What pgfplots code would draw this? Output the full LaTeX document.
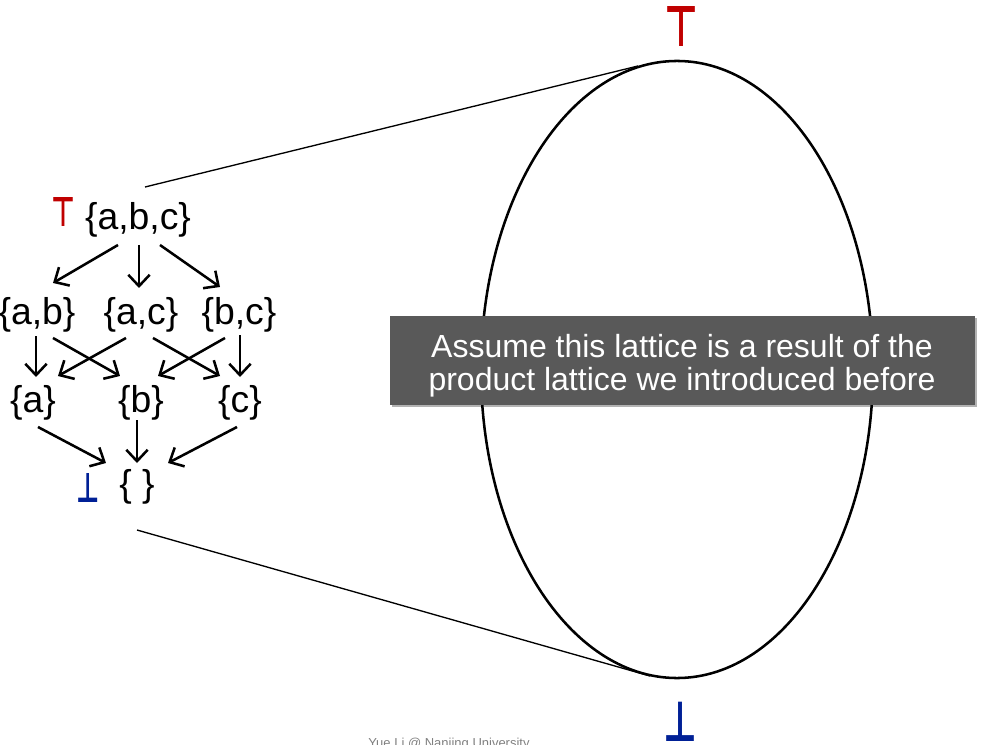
\documentclass[border=0pt]{standalone}
\usepackage{pgfplots}
\pgfplotsset{compat=1.18}
\usepackage{fontspec}
\setmainfont{Liberation Sans}
\newfontfamily\dejavu{DejaVu Sans}
\usepackage{graphicx}
\usetikzlibrary{arrows.meta,shadows}
\definecolor{topred}{RGB}{192,0,0}
\definecolor{botblue}{RGB}{0,32,150}
\definecolor{boxgray}{RGB}{89,89,89}
\definecolor{footgray}{RGB}{128,128,128}
\begin{document}
\begin{tikzpicture}
\useasboundingbox (0,0) rectangle (736.5pt,558pt);
\clip (0,0) rectangle (736.5pt,558pt);
\begin{axis}[
  at={(0,0)}, anchor=origin,
  scale only axis, width=736.5pt, height=558pt,
  xmin=0, xmax=982, ymin=0, ymax=744,
  hide axis, clip=false,
]
% tangent lines
\addplot[black, line width=1pt] coordinates {(145,557) (638,678)};
\addplot[black, line width=1pt] coordinates {(137,214) (650,68)};
% ellipse
\draw[black, line width=1.9pt] (axis cs:677,374.5) ellipse [x radius=147pt, y radius=231.4pt];
% arrows
\pgfplotsset{arr/.style={black, line width=1.9pt, -{Straight Barb[length=8.5pt,width=16pt]}}}
\addplot[arr] coordinates {(118,499) (53,461)};
\addplot[arr] coordinates {(139,499) (139,456)};
\addplot[arr] coordinates {(160,499) (220,457)};
\addplot[arr] coordinates {(36,408) (36,367)};
\addplot[arr] coordinates {(53,406) (120,368)};
\addplot[arr] coordinates {(126,406) (58,368)};
\addplot[arr] coordinates {(153,406) (220,368)};
\addplot[arr] coordinates {(225,406) (158,368)};
\addplot[arr] coordinates {(240,409) (240,367)};
\addplot[arr] coordinates {(38,317) (106,281)};
\addplot[arr] coordinates {(137,324) (137,281)};
\addplot[arr] coordinates {(237,317) (168,281)};
% lattice labels
\tikzset{lab/.style={inner sep=0pt, font=\fontsize{28}{30}\selectfont}}
\node[lab] at (axis cs:138,524.5) {\{a,b,c\}};
\node[lab] at (axis cs:37,429.5) {\{a,b\}};
\node[lab] at (axis cs:141,429.5) {\{a,c\}};
\node[lab] at (axis cs:239,429.5) {\{b,c\}};
\node[lab] at (axis cs:33,341.5) {\{a\}};
\node[lab] at (axis cs:141,341.5) {\{b\}};
\node[lab] at (axis cs:240,341.5) {\{c\}};
\node[lab] at (axis cs:137,257.5) {\{ \}};
% top / bottom symbols
\node[inner sep=0pt, text=topred] at (axis cs:64,531.5) {\resizebox{18pt}{21.75pt}{\dejavu\bfseries ⊤}};
\node[inner sep=0pt, text=botblue] at (axis cs:88,256.5) {\resizebox{17.5pt}{21.75pt}{\dejavu\bfseries ⊥}};
\node[inner sep=0pt, text=topred] at (axis cs:681,717) {\resizebox{25.5pt}{30pt}{\dejavu\bfseries ⊤}};
\node[inner sep=0pt, text=botblue] at (axis cs:680,22.5) {\resizebox{25.5pt}{29.5pt}{\dejavu\bfseries ⊥}};
% box
\fill[boxgray, drop shadow={shadow xshift=1.5pt, shadow yshift=-1.5pt, fill=black, opacity=0.3}] (axis cs:390,339) rectangle (axis cs:975,428);
\node[inner sep=0pt, anchor=base, text=white, font=\fontsize{24}{24}\selectfont] at (axis cs:682,387) {Assume this lattice is a result of the};
\node[inner sep=0pt, anchor=base, text=white, font=\fontsize{24}{24}\selectfont] at (axis cs:682,354) {product lattice we introduced before};
% footer
\node[inner sep=0pt, anchor=base west, text=footgray, font=\fontsize{9.75}{11}\selectfont] at (axis cs:368,-3) {Yue Li @ Nanjing University};
\end{axis}
\end{tikzpicture}
\end{document}
